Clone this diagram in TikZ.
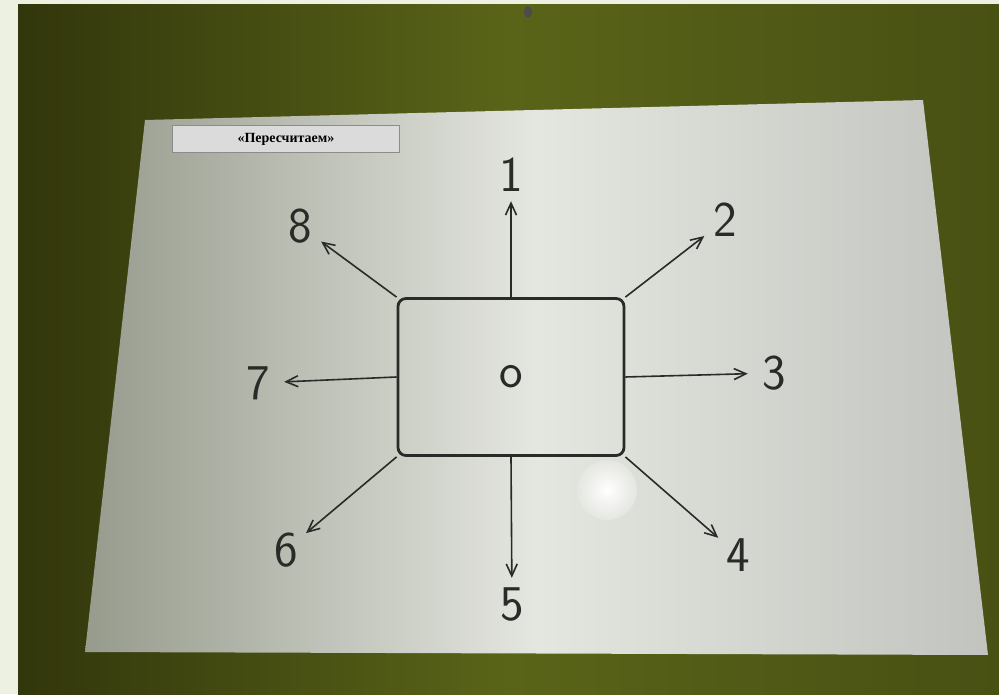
\documentclass[tikz,border=0pt]{standalone}
\usepackage{fontspec}
\newfontfamily\titlefont{Liberation Serif}
\usetikzlibrary{arrows.meta, positioning}
\definecolor{myframe}   {RGB}{237, 241, 225}
\definecolor{mywall}    {RGB}{90, 100, 24}
\definecolor{mywalldk}  {RGB}{50, 54, 12}
\definecolor{mypaper}   {RGB}{228, 230, 224}
\definecolor{mypaperdk} {RGB}{150, 155, 140}
\definecolor{myink}     {RGB}{40, 43, 40}

\begin{document}
\begin{tikzpicture}[x=1pt, y=1pt,
        digit/.style={circle, minimum size=52pt, inner sep=0pt, text=myink, font=\fontsize{50}{50}\selectfont\sffamily},
        arr/.style={-{Straight Barb[length=12pt, width=11pt]}, line width=1.6pt, draw=myink}]
        \useasboundingbox (0,0) rectangle (999,694);
        \fill[myframe] (0,0) rectangle (999,694);
        \shade[left color=mywalldk, right color=mywall!80!black, middle color=mywall] (18,0) rectangle (999,689);
        \fill[black!70] (528,682) ellipse (4 and 6);
        \shade[left color=mypaperdk, right color=mypaper!85!black, middle color=mypaper] (145,574) -- (923,594) -- (988,39) -- (85,42) -- cycle;
        \shade[inner color=white, outer color=mypaper] (607,204) circle (30);
        \node[draw=black!45, fill=black!14, minimum width=227pt, minimum height=27pt, inner sep=0pt, font=\titlefont\bfseries\fontsize{14}{14}\selectfont] (title) at (286,555) {«Пересчитаем»};
        \node[draw=myink, line width=2.8pt, rounded corners=8pt, minimum width=226pt, minimum height=157pt] (box) at (511,317) {};
        \node[digit] (o) at (box.center) {o};
        \foreach \i/\pos/\from in {1/{511,519}/north, 2/{725,474}/north east, 3/{774,321}/east, 4/{738,139}/south east, 5/{512,90}/south, 6/{286,144}/south west, 7/{258,311}/west, 8/{300,468}/north west}
        {
            \node[digit] (n\i) at (\pos) {\i};
            \draw[arr] (box.\from) -- (n\i);
        }
    \end{tikzpicture}
\end{document}
